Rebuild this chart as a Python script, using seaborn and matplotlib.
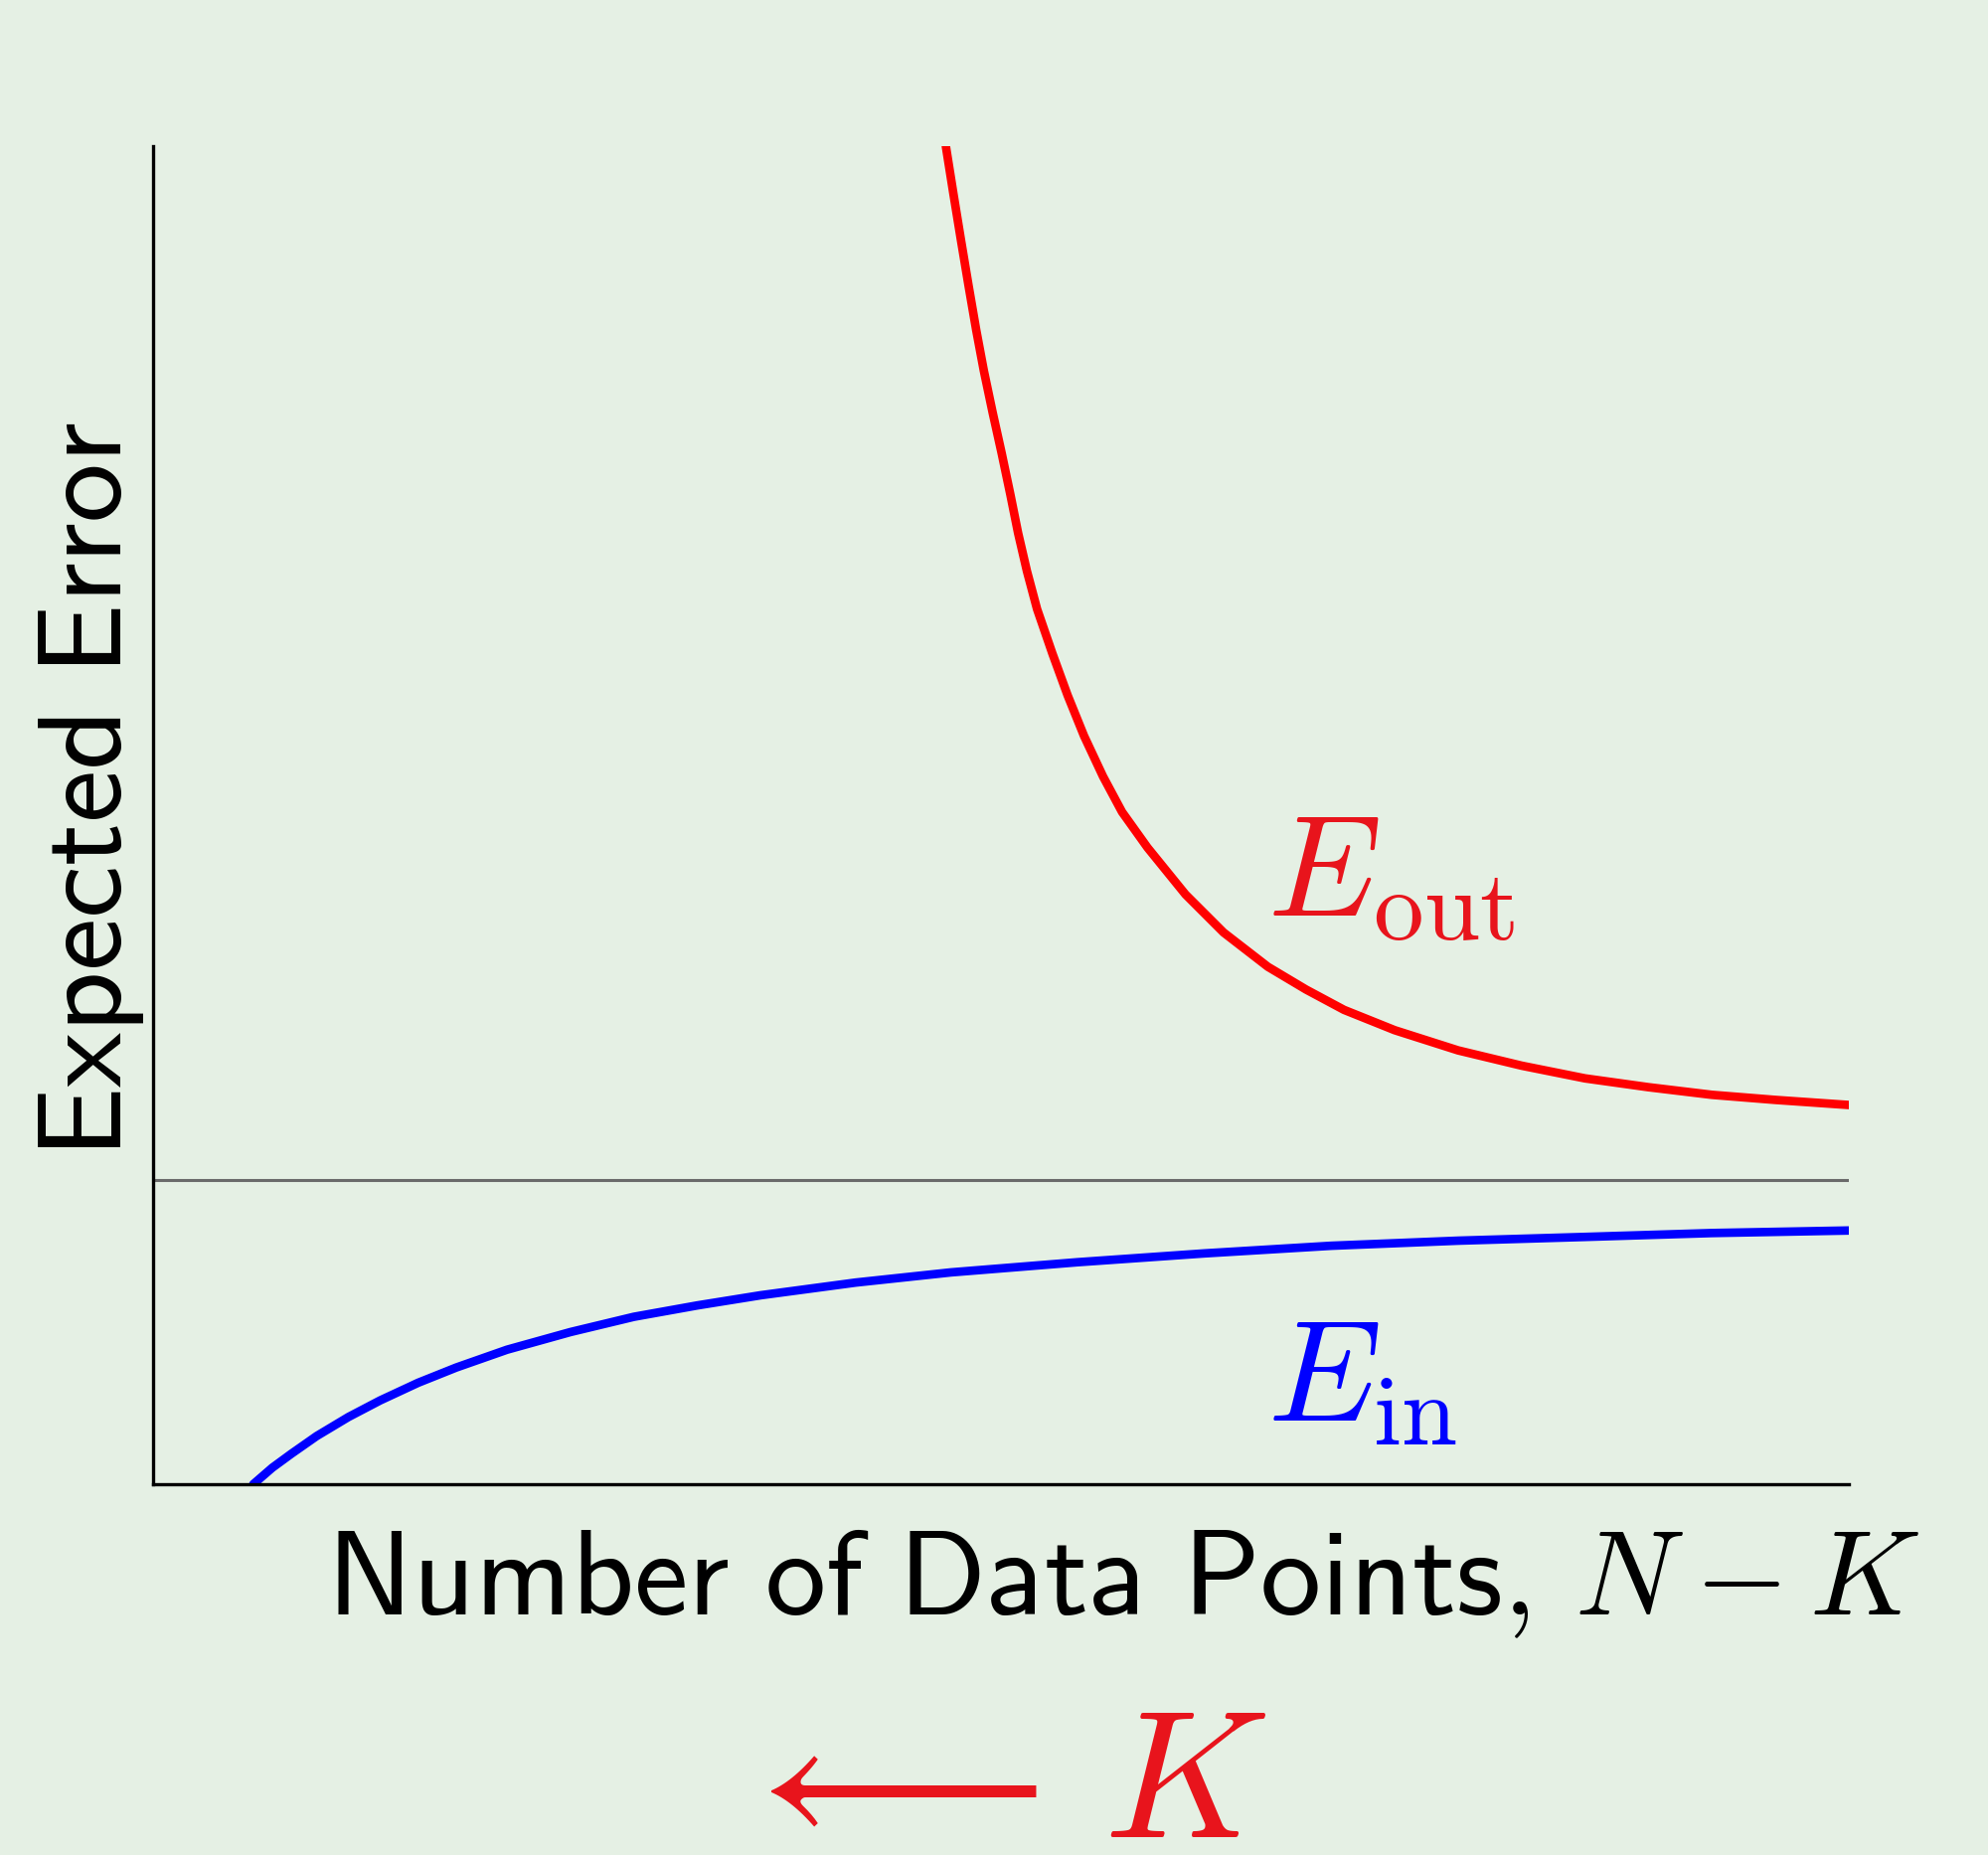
import matplotlib
matplotlib.use("Agg")
import matplotlib.pyplot as plt
import seaborn as sns
import pandas as pd

# ---- data (arbitrary units 0..100) ----
eout_x = [46.75, 47.19, 47.64, 48.09, 48.54, 48.99, 49.51, 50.04, 50.56, 51.01, 51.53,
          52.13, 53.03, 53.93, 54.90, 56.02, 57.14, 58.64, 60.88, 63.13, 65.74, 67.99,
          70.23, 73.22, 76.96, 80.70, 84.44, 88.18, 91.92, 95.66, 100.0]
eout_y = [100.0, 96.49, 92.99, 89.57, 86.26, 83.22, 80.09, 77.06, 73.93, 71.09, 68.25,
          65.40, 62.09, 58.96, 55.92, 52.89, 50.24, 47.58, 44.08, 41.23, 38.67, 36.97,
          35.45, 33.93, 32.42, 31.28, 30.33, 29.67, 29.10, 28.72, 28.34]

ein_x = [5.91, 7.03, 8.15, 9.65, 11.52, 13.39, 15.63, 17.88, 20.87, 24.61, 28.35,
         32.09, 35.83, 41.44, 47.05, 54.52, 62.00, 69.48, 76.96, 84.44, 91.92, 100.0]
ein_y = [0.0, 1.23, 2.27, 3.60, 5.02, 6.26, 7.58, 8.72, 10.05, 11.37, 12.51,
         13.36, 14.12, 15.07, 15.83, 16.59, 17.25, 17.82, 18.20, 18.48, 18.77, 18.96]

limit_y = 22.7
xlabel = r"$\mathsf{Number\ of\ Data\ Points,}\,N-K$"
ylabel = r"$\mathsf{Expected\ Error}$"
eout_label = r"$E_{\rm out}$"
ein_label = r"$E_{\rm in}$"
k_label = r"$\longleftarrow\,K$"

BG = "#e5f0e4"
sns.set_theme(style="white", rc={"figure.facecolor": BG, "axes.facecolor": BG})
plt.rcParams["mathtext.fontset"] = "cm"

fig = plt.figure(figsize=(20, 18.66), dpi=100)
ax = fig.add_axes([154 / 2000, 1 - 1493 / 1866, 1706 / 2000, 1346 / 1866])

df_out = pd.DataFrame({"x": eout_x, "y": eout_y})
df_in = pd.DataFrame({"x": ein_x, "y": ein_y})

ax.axhline(limit_y, color="#6a6a6a", linewidth=2.2, zorder=1)
sns.lineplot(data=df_out, x="x", y="y", ax=ax, color="#ff0000", linewidth=6.2, sort=False)
sns.lineplot(data=df_in, x="x", y="y", ax=ax, color="#0000ff", linewidth=6.2, sort=False)

ax.set_xlim(0, 100)
ax.set_ylim(0, 100)
ax.set_xticks([])
ax.set_yticks([])
for s in ["top", "right"]:
    ax.spines[s].set_visible(False)
for s in ["left", "bottom"]:
    ax.spines[s].set_color("black")
    ax.spines[s].set_linewidth(2.4)

ax.set_xlabel(xlabel, fontsize=88, color="black", va="top")
ax.xaxis.set_label_coords(0.572, -0.030)
ax.set_ylabel(ylabel, fontsize=86, color="black")
ax.yaxis.set_label_coords(-0.004, 0.519)

ax.text(65.7, 42.5, eout_label, color="#e8141c", fontsize=104, ha="left", va="baseline")
ax.text(65.7, 4.7, ein_label, color="#0000ff", fontsize=104, ha="left", va="baseline")

fig.text(0.3668, 1 - 1848 / 1866, k_label, color="#e8141c", fontsize=131, ha="left", va="baseline")

fig.savefig("out.png", dpi=100, facecolor=BG)
